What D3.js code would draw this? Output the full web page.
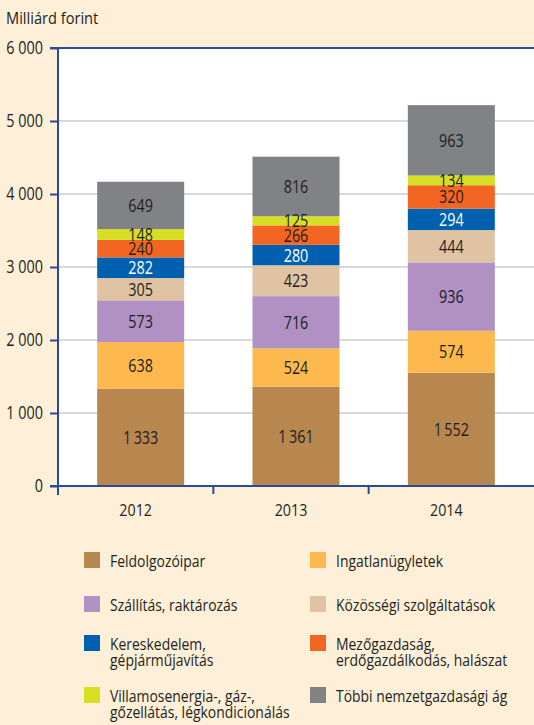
<!DOCTYPE html>
<html>
<head>
<meta charset="utf-8">
<script src="https://cdn.jsdelivr.net/npm/d3@7"></script>
<style>
  body { margin: 0; background: #fdefd8; }
  svg { display: block; }
  text { font-family: "Open Sans", "Noto Sans", sans-serif; fill: #231f20; }
</style>
</head>
<body>
<div id="chart"></div>
<script>
// years and sectors (stack order, bottom to top)
var years = ["2012", "2013", "2014"];
var sectors = ["Feldolgozóipar", "Ingatlanügyletek", "Szállítás, raktározás", "Közösségi szolgáltatások",
  "Kereskedelem, gépjárműjavítás", "Mezőgazdaság, erdőgazdálkodás, halászat",
  "Villamosenergia-, gáz-, gőzellátás, légkondicionálás", "Többi nemzetgazdasági ág"];
var feldolgozo = [1333, 1361, 1552];
var ingatlan = [638, 524, 574];
var szallitas = [573, 716, 936];
var kozossegi = [305, 423, 444];
var kereskedelem = [282, 280, 294];
var mezogazdasag = [240, 266, 320];
var villamos = [148, 125, 134];
var tobbi = [649, 816, 963];
var yTicks = [0, 1000, 2000, 3000, 4000, 5000, 6000];

var colors = ["#b8864f", "#fdb94d", "#b190c4", "#dfc3a3", "#0060b0", "#f26522", "#d7df23", "#808285"];
var labelColors = ["#231f20", "#231f20", "#231f20", "#231f20", "#ffffff", "#231f20", "#231f20", "#231f20"];

// legend text, split into lines
var legendLines = [
  ["Feldolgozóipar"], ["Ingatlanügyletek"],
  ["Szállítás, raktározás"], ["Közösségi  szolgáltatások"],
  ["Kereskedelem,", "gépjárműjavítás"], ["Mezőgazdaság,", "erdőgazdálkodás, halászat"],
  ["Villamosenergia-, gáz-,", "gőzellátás, légkondicionálás"], ["Többi nemzetgazdasági ág"]
];

var series = [feldolgozo, ingatlan, szallitas, kozossegi, kereskedelem, mezogazdasag, villamos, tobbi];
var data = years.map(function(y, i) {
  var row = { year: y };
  sectors.forEach(function(s, k) { row[s] = series[k][i]; });
  return row;
});

var svgWidth = 534, svgHeight = 725;
var margin = { top: 48, right: 0, bottom: 239, left: 58 };
var height = svgHeight - margin.top - margin.bottom;
var narrow = 0.8; // horizontal squeeze to mimic the condensed face

var svg = d3.select("#chart").append("svg")
  .attr("width", svgWidth)
  .attr("height", svgHeight);

var fmt = function(v) { return d3.format(",")(v).replace(/,/g, "\u2009"); };
var fmtTick = function(v) { return d3.format(",")(v).replace(/,/g, " "); };

var x = d3.scaleBand().domain(years).range([margin.left, 524]);
var y = d3.scaleLinear().domain([0, 6000]).range([margin.top + height, margin.top]);

// plot area
svg.append("rect")
  .attr("x", margin.left).attr("y", y(6000))
  .attr("width", svgWidth - margin.left).attr("height", y(0) - y(6000))
  .attr("fill", "#ffffff");

// gridlines
svg.append("g").selectAll("line")
  .data(yTicks.filter(function(t) { return t > 0 && t < 6000; }))
  .enter().append("line")
  .attr("x1", margin.left).attr("x2", svgWidth)
  .attr("y1", function(d) { return y(d); }).attr("y2", function(d) { return y(d); })
  .attr("stroke", "#b3b3b3").attr("stroke-width", 1.2);

// stacked bars
var stack = d3.stack().keys(sectors)(data);
var barW = 87, barShift = 5;

var layers = svg.append("g").selectAll("g")
  .data(stack).enter().append("g")
  .attr("fill", function(d, i) { return colors[i]; });

layers.selectAll("rect")
  .data(function(d) { return d; })
  .enter().append("rect")
  .attr("x", function(d) { return x(d.data.year) + x.bandwidth() / 2 - barW / 2 + barShift; })
  .attr("y", function(d) { return y(d[1]); })
  .attr("height", function(d) { return y(d[0]) - y(d[1]); })
  .attr("width", barW);

// value labels
stack.forEach(function(layer, i) {
  svg.append("g").selectAll("text")
    .data(layer).enter().append("text")
    .attr("transform", function(d) {
      var cx = x(d.data.year) + x.bandwidth() / 2 + barShift;
      var cy = (y(d[0]) + y(d[1])) / 2;
      return "translate(" + cx + "," + cy + ") scale(" + narrow + ",1)";
    })
    .attr("dy", "0.36em")
    .attr("text-anchor", "middle")
    .style("font-size", "18px")
    .style("fill", labelColors[i])
    .text(function(d) { return fmt(d[1] - d[0]); });
});

// axes
var axisColor = "#2b4a9b";
var leftAxis = d3.axisLeft(y).tickValues(yTicks).tickSize(8).tickPadding(7).tickFormat(fmtTick);
var yAxis = svg.append("g")
  .attr("transform", "translate(" + margin.left + ",0)")
  .call(leftAxis);
yAxis.select(".domain").remove();
yAxis.selectAll(".tick line").attr("stroke", axisColor).attr("stroke-width", 2);
yAxis.selectAll(".tick text")
  .attr("x", -15 / narrow)
  .attr("transform", "scale(" + narrow + ",1)")
  .style("font-size", "18px").style("font-family", null).attr("fill", "#231f20");

// frame lines: left, top, bottom
svg.append("line").attr("x1", margin.left).attr("x2", margin.left)
  .attr("y1", y(6000) - 1).attr("y2", y(0) + 9)
  .attr("stroke", axisColor).attr("stroke-width", 2);
svg.append("line").attr("x1", margin.left - 8).attr("x2", svgWidth)
  .attr("y1", y(6000)).attr("y2", y(6000))
  .attr("stroke", axisColor).attr("stroke-width", 2);
svg.append("line").attr("x1", margin.left - 8).attr("x2", svgWidth)
  .attr("y1", y(0)).attr("y2", y(0))
  .attr("stroke", axisColor).attr("stroke-width", 2);

// x category ticks between bands
svg.append("g").selectAll("line")
  .data(years.slice(1)).enter().append("line")
  .attr("x1", function(d) { return x(d); }).attr("x2", function(d) { return x(d); })
  .attr("y1", y(0)).attr("y2", y(0) + 8)
  .attr("stroke", axisColor).attr("stroke-width", 2);

// x labels
svg.append("g").selectAll("text")
  .data(years).enter().append("text")
  .attr("transform", function(d) {
    return "translate(" + (x(d) + x.bandwidth() / 2) + "," + (y(0) + 30) + ") scale(0.84,1)";
  })
  .attr("text-anchor", "middle")
  .style("font-size", "17px")
  .text(function(d) { return d; });

// y axis title
svg.append("text")
  .attr("transform", "translate(6,24) scale(0.86,1)")
  .style("font-size", "17px")
  .text("Milliárd forint");

// legend
var legendRows = [552, 552, 596, 596, 635, 635, 687, 687];
var legendCols = [84, 310];
var legend = svg.append("g").selectAll("g")
  .data(sectors).enter().append("g")
  .attr("transform", function(d, i) { return "translate(" + legendCols[i % 2] + "," + legendRows[i] + ")"; });

legend.append("rect")
  .attr("width", 16).attr("height", 16)
  .attr("fill", function(d, i) { return colors[i]; });

legend.append("text")
  .attr("transform", "translate(26,15) scale(0.82,1)")
  .style("font-size", "17px")
  .selectAll("tspan")
  .data(function(d, i) { return legendLines[i]; })
  .enter().append("tspan")
  .attr("x", 0)
  .attr("dy", function(d, j) { return j === 0 ? 0 : 16; })
  .text(function(d) { return d; });
</script>
</body>
</html>
